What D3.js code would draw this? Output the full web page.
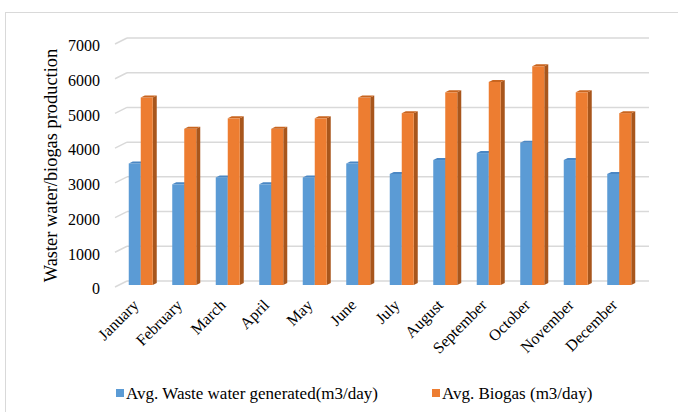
<!DOCTYPE html>
<html>
<head>
<meta charset="utf-8">
<script src="https://cdn.jsdelivr.net/npm/d3@7"></script>
<style>
  html, body { margin: 0; padding: 0; background: #fff; }
  svg { display: block; }
  text { font-family: "Liberation Serif", "Times New Roman", serif; fill: #000; }
</style>
</head>
<body>
<svg id="chart" width="678" height="412"></svg>
<script>
// Monthly averages
const months = ["January", "February", "March", "April", "May", "June",
                "July", "August", "September", "October", "November", "December"];
const wasteWater = [3500, 2900, 3100, 2900, 3100, 3500, 3200, 3600, 3800, 4100, 3600, 3200];
const biogas = [5400, 4500, 4800, 4500, 4800, 5400, 4950, 5550, 5850, 6300, 5550, 4950];
const yTicks = [0, 1000, 2000, 3000, 4000, 5000, 6000, 7000];
const seriesNames = ["Avg. Waste water generated(m3/day)", "Avg. Biogas (m3/day)"];

const serif = "'Liberation Serif', 'Times New Roman', serif";
const svg = d3.select("#chart");

// Outer chart frame
svg.append("rect")
  .attr("x", 5.5).attr("y", 12.5)
  .attr("width", 700).attr("height", 420)
  .attr("fill", "none").attr("stroke", "#d9d9d9").attr("stroke-width", 1);

// 3-D projection: back wall vs. front edge of the floor
const depthX = 12, depthY = -6;
const xBack = d3.scaleBand().domain(months).range([127, 649]);
const yBack = d3.scaleLinear().domain([0, 7000]).range([281, 38]);
const yFront = yBack.copy().range(yBack.range().map(v => v - depthY));

// Columns sit a third of the way into the depth
const faceDX = -8, faceDY = 4;
const barDX = 4, barDY = -2;
const xFace = xBack.copy().range(xBack.range().map(v => v + faceDX));
const sub = d3.scaleBand().domain([0, 1]).range([-12, 12]);

// Gridlines on back wall plus the receding stubs
const grid = svg.append("g");
yTicks.forEach(t => {
  const yb = yBack(t);
  grid.append("line")
    .attr("x1", xBack.range()[0]).attr("x2", xBack.range()[1])
    .attr("y1", yb).attr("y2", yb)
    .attr("stroke", "#d9d9d9").attr("stroke-width", 1.5);
  grid.append("line")
    .attr("x1", xBack.range()[0] - depthX).attr("y1", yb - depthY)
    .attr("x2", xBack.range()[0]).attr("y2", yb)
    .attr("stroke", "#d9d9d9").attr("stroke-width", 1.5);
});

// Y axis labels along the front edge
const yAxis = svg.append("g")
  .attr("transform", `translate(${xBack.range()[0] - depthX - 2},0)`)
  .call(d3.axisLeft(yFront).tickValues(yTicks).tickSize(0).tickPadding(13).tickFormat(d3.format("d")))
  .attr("font-family", serif).attr("font-size", 16);
yAxis.select(".domain").remove();
yAxis.selectAll("text")
  .attr("dy", "0.42em")
  .style("font-family", serif)
  .style("font-size", "16px").attr("fill", "#000");

// Y axis title
svg.append("text")
  .attr("transform", `translate(57,${(yFront(0) + yFront(7000)) / 2}) rotate(-90)`)
  .attr("text-anchor", "middle")
  .style("font-family", serif)
  .style("font-size", "18.4px")
  .text("Waster water/biogas production");

const palette = [
  { front: "#5b9bd5", top: "#4a87c4", side: "#3e74a8" },
  { front: "#ed7d31", top: "#c9651f", side: "#a8561c" }
];

const series = [wasteWater, biogas];
const bars = svg.append("g");
months.forEach((m, i) => {
  const cx = xFace(m) + xFace.bandwidth() / 2;
  series.forEach((vals, s) => {
    const x0 = cx + sub(s), x1 = x0 + sub.bandwidth();
    const yt = yBack(vals[i]) + faceDY, yb = yBack(0) + faceDY;
    const c = palette[s];
    // right side face
    bars.append("path")
      .attr("d", `M${x1},${yt}L${x1 + barDX},${yt + barDY}L${x1 + barDX},${yb + barDY}L${x1},${yb}Z`)
      .attr("fill", c.side);
    // front face
    bars.append("rect")
      .attr("x", x0).attr("y", yt)
      .attr("width", x1 - x0).attr("height", yb - yt)
      .attr("fill", c.front);
    // top face
    bars.append("path")
      .attr("d", `M${x0},${yt}L${x1},${yt}L${x1 + barDX},${yt + barDY}L${x0 + barDX},${yt + barDY}Z`)
      .attr("fill", c.top);
  });
});

// Month labels, slanted
const xAxis = svg.append("g")
  .attr("transform", `translate(0,${yFront(0) + 19})`)
  .call(d3.axisBottom(xFace).tickSize(0).tickPadding(0))
  .attr("font-family", serif).attr("font-size", 16);
xAxis.select(".domain").remove();
xAxis.selectAll("text")
  .attr("text-anchor", "end")
  .attr("y", 0)
  .attr("dy", 0)
  .attr("transform", "translate(-1,0) rotate(-45)")
  .style("font-family", serif)
  .style("font-size", "16px").attr("fill", "#000");

// Legend
const legend = svg.append("g").attr("transform", "translate(0,393)");
const legendX = [116, 432];
seriesNames.forEach((name, s) => {
  legend.append("rect")
    .attr("x", legendX[s]).attr("y", -4)
    .attr("width", 8).attr("height", 8)
    .attr("fill", palette[s].front);
  legend.append("text")
    .attr("x", legendX[s] + 10).attr("y", 0)
    .attr("dy", "0.35em")
    .style("font-family", serif)
    .style("font-size", "17px")
    .text(name);
});
</script>
</body>
</html>
